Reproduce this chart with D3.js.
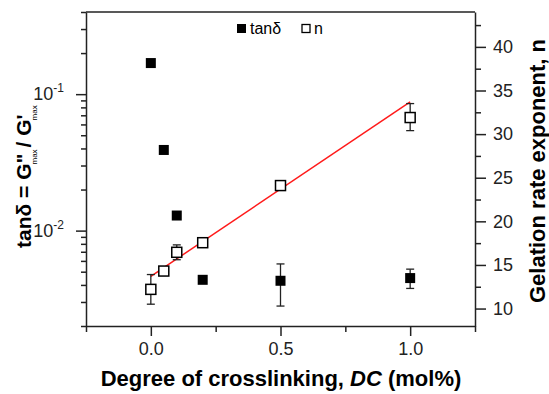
<!DOCTYPE html>
<html>
<head>
<meta charset="utf-8">
<script src="https://cdn.jsdelivr.net/npm/d3@7"></script>
<style>
  body { margin: 0; background: #fff; }
  svg { font-family: "Liberation Sans", Arial, sans-serif; }
  .axis path, .axis line { stroke: #222; stroke-width: 1.5; }
  .axis text { font-size: 18px; fill: #222; }
</style>
</head>
<body>
<div id="chart"></div>
<script>
var svgWidth = 549;
var svgHeight = 394;

var margin = { top: 12, right: 74, bottom: 68, left: 86 };
var width = svgWidth - margin.left - margin.right;
var height = svgHeight - margin.top - margin.bottom;

// data
var dcTan = [0, 0.05, 0.1, 0.2, 0.5, 1.0];
var tanDelta = [0.169, 0.039, 0.0129, 0.00436, 0.00429, 0.00449];
var tanErrLow = [null, null, null, null, 0.0028, 0.00377];
var tanErrHigh = [null, null, null, null, 0.0057, 0.00522];

var dcN = [0, 0.05, 0.1, 0.2, 0.5, 1.0];
var nValues = [12.2, 14.3, 16.45, 17.55, 24.1, 31.9];
var nErrLow = [10.5, null, 15.6, null, null, 30.4];
var nErrHigh = [13.9, null, 17.3, null, null, 33.5];

var fitX = [0, 1.0];
var fitN = [13.7, 33.7];

var xMajor = [0, 0.5, 1.0];
var xMinor = [-0.25, 0.25, 0.75, 1.25];
var leftMajor = [0.01, 0.1];
var leftMajorLabels = ["-2", "-1"];
var rightMajor = [10, 15, 20, 25, 30, 35, 40];
var rightMinor = [12.5, 17.5, 22.5, 27.5, 32.5, 37.5, 42.5];

var svg = d3.select("#chart")
  .append("svg")
  .attr("width", svgWidth)
  .attr("height", svgHeight);

var chartGroup = svg.append("g")
  .attr("transform", `translate(${margin.left}, ${margin.top})`);

var xScale = d3.scaleLinear().domain([-0.25, 1.25]).range([0, width]);
var yLeft = d3.scaleLog().domain([0.002, 0.4]).range([height, 0]);
var yRight = d3.scaleLinear().domain([8, 44]).range([height, 0]);

// log minor ticks
var leftMinor = [];
[0.001, 0.01, 0.1].forEach(function(dec) {
  for (var k = 2; k <= 9; k++) {
    var v = dec * k;
    if (v >= 0.002 - 1e-9 && v <= 0.4 + 1e-9) leftMinor.push(v);
  }
});

// bottom axis
chartGroup.append("g")
  .attr("class", "axis")
  .attr("transform", `translate(0, ${height})`)
  .call(d3.axisBottom(xScale).tickValues(xMajor).tickSize(10).tickSizeOuter(0).tickPadding(6)
    .tickFormat(d3.format(".1f")));
chartGroup.append("g")
  .attr("class", "axis")
  .attr("transform", `translate(0, ${height})`)
  .call(d3.axisBottom(xScale).tickValues(xMinor).tickSize(6).tickSizeOuter(0).tickFormat(""))
  .select(".domain").remove();

// left axis
var leftAx = chartGroup.append("g")
  .attr("class", "axis")
  .call(d3.axisLeft(yLeft).tickValues(leftMajor).tickSize(10).tickSizeOuter(0).tickPadding(12)
    .tickFormat(function() { return ""; }));
leftAx.selectAll(".tick text").each(function(d, i) {
  var t = d3.select(this);
  t.append("tspan").text("10");
  t.append("tspan").attr("dy", -8).style("font-size", "12px").text(leftMajorLabels[i]);
});
chartGroup.append("g")
  .attr("class", "axis")
  .call(d3.axisLeft(yLeft).tickValues(leftMinor).tickSize(5).tickSizeOuter(0).tickFormat(""))
  .select(".domain").remove();

// right axis
chartGroup.append("g")
  .attr("class", "axis")
  .attr("transform", `translate(${width}, 0)`)
  .call(d3.axisRight(yRight).tickValues(rightMajor).tickSize(11).tickSizeOuter(0).tickPadding(7));
chartGroup.append("g")
  .attr("class", "axis")
  .attr("transform", `translate(${width}, 0)`)
  .call(d3.axisRight(yRight).tickValues(rightMinor).tickSize(6).tickSizeOuter(0).tickFormat(""))
  .select(".domain").remove();

// top frame line
chartGroup.append("line")
  .attr("x1", 0).attr("x2", width).attr("y1", 0).attr("y2", 0)
  .attr("stroke", "#222").attr("stroke-width", 1.5);

// fit line
chartGroup.append("line")
  .attr("x1", xScale(fitX[0])).attr("y1", yRight(fitN[0]))
  .attr("x2", xScale(fitX[1])).attr("y2", yRight(fitN[1]))
  .attr("stroke", "#ff1a1a").attr("stroke-width", 1.5);

// error bars
function drawErr(xs, lo, hi, scale) {
  xs.forEach(function(x, i) {
    if (lo[i] == null) return;
    var cx = xScale(x);
    var g = chartGroup.append("g").attr("stroke", "#222").attr("stroke-width", 1.3);
    g.append("line").attr("x1", cx).attr("x2", cx).attr("y1", scale(lo[i])).attr("y2", scale(hi[i]));
    g.append("line").attr("x1", cx - 4).attr("x2", cx + 4).attr("y1", scale(lo[i])).attr("y2", scale(lo[i]));
    g.append("line").attr("x1", cx - 4).attr("x2", cx + 4).attr("y1", scale(hi[i])).attr("y2", scale(hi[i]));
  });
}
drawErr(dcTan, tanErrLow, tanErrHigh, yLeft);
drawErr(dcN, nErrLow, nErrHigh, yRight);

// tan delta squares
chartGroup.selectAll(".tanpt")
  .data(dcTan)
  .enter()
  .append("rect")
  .attr("x", d => xScale(d) - 5)
  .attr("y", (d, i) => yLeft(tanDelta[i]) - 5)
  .attr("width", 10).attr("height", 10)
  .attr("fill", "#000");

// n open squares
chartGroup.selectAll(".npt")
  .data(dcN)
  .enter()
  .append("rect")
  .attr("x", d => xScale(d) - 5)
  .attr("y", (d, i) => yRight(nValues[i]) - 5)
  .attr("width", 10).attr("height", 10)
  .attr("fill", "#fff").attr("stroke", "#000").attr("stroke-width", 1.5);

// legend
var legend = svg.append("g").style("font-size", "16px");
legend.append("rect").attr("x", 237).attr("y", 24).attr("width", 9).attr("height", 9).attr("fill", "#000");
legend.append("text").attr("x", 250).attr("y", 34).text("tanδ");
legend.append("rect").attr("x", 302).attr("y", 24.5).attr("width", 8).attr("height", 8)
  .attr("fill", "#fff").attr("stroke", "#000").attr("stroke-width", 1.3);
legend.append("text").attr("x", 314).attr("y", 34).text("n");

// axis titles
svg.append("text")
  .attr("x", 281).attr("y", 386)
  .attr("text-anchor", "middle")
  .style("font-size", "22px").style("font-weight", "bold")
  .call(function(t) {
    t.append("tspan").text("Degree of crosslinking, ");
    t.append("tspan").style("font-style", "italic").text("DC");
    t.append("tspan").text(" (mol%)");
  });

var leftTitle = svg.append("text")
  .attr("transform", "translate(31, 248) rotate(-90)")
  .attr("text-anchor", "start")
  .style("font-size", "21px").style("font-weight", "bold")
  .call(function(t) {
    t.append("tspan").text("tanδ = G");
    t.append("tspan").text("\"");
    t.append("tspan").attr("dx", -11).attr("dy", 6).style("font-size", "8px").style("font-weight", "normal").text("max");
    t.append("tspan").attr("dx", 2).attr("dy", -6).text("/ G");
    t.append("tspan").text("'");
    t.append("tspan").attr("dx", -6).attr("dy", 6).style("font-size", "8px").style("font-weight", "normal").text("max");
  });

svg.append("text")
  .attr("transform", "translate(545, 171) rotate(-90)")
  .attr("text-anchor", "middle")
  .style("font-size", "22px").style("font-weight", "bold")
  .text("Gelation rate exponent, n");
</script>
</body>
</html>
